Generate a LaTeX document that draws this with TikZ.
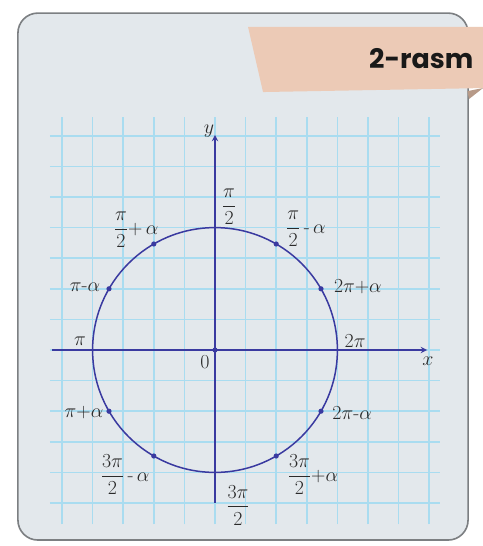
\RequirePackage{fix-cm}
\documentclass[tikz,border=0pt]{standalone}
\usepackage{amsmath}
\usepackage{fontspec}
\newfontfamily\rasmfont{Poppins}
\usepackage{tikz}
\definecolor{boxfill}{HTML}{E3E8EC}
\definecolor{boxline}{HTML}{7C7F82}
\definecolor{bannerfill}{HTML}{ECCAB6}
\definecolor{bannerfold}{HTML}{B79A88}
\definecolor{gridblue}{HTML}{A9DCF0}
\definecolor{axisblue}{HTML}{3A3AA0}
\definecolor{labelgray}{HTML}{2A2A2A}

\begin{document}
\begin{tikzpicture}[lbl/.style={font=\fontsize{18.5}{21}\selectfont, text=labelgray, inner sep=0pt}]
		\useasboundingbox (-7.026,-6.405) rectangle (8.758,11.438);
		\fill[white] (-7.026,-6.405) rectangle (8.758,11.438);
		\draw[line width=1.5pt, draw=boxline, fill=boxfill, rounded corners=0.65cm] (-6.44,-6.21) rectangle (8.27,11.01);
		\fill[bannerfill] (1.08,10.56) -- (8.758,10.56) -- (8.758,8.56) -- (1.57,8.43) -- cycle;
		\fill[bannerfold] (8.25,8.46) -- (8.758,8.56) -- (8.3,8.2) -- cycle;
		\node[anchor=east, inner sep=0pt, font=\rasmfont\bfseries\fontsize{25}{28}\selectfont, text=black!90] (rasm) at (8.45,9.54) {2-rasm};
		\foreach \k in {-5,...,7}{
			\draw[gridblue, line width=1.4pt] (-5.4,\k) -- (7.35,\k);
			\draw[gridblue, line width=1.4pt] (\k,-5.7) -- (\k,7.6);
		}
		\coordinate (O) at (0,0);
		\coordinate (xs) at (-5.33,0);
		\coordinate (xe) at (6.93,0);
		\coordinate (ys) at (0,-5.0);
		\coordinate (ye) at (0,7.03);
		\draw[line width=1.6pt, axisblue, -stealth] (xs) -- (xe);
		\draw[line width=1.6pt, axisblue, -stealth] (ys) -- (ye);
		\draw[line width=1.4pt, axisblue] (O) circle (4);
		\foreach \a in {30,60,120,150,210,240,300,330}{
			\coordinate (P\a) at (\a:4);
			\fill[axisblue] (P\a) circle (0.085);
		}
		\fill[axisblue] (O) circle (0.085);
		\node[lbl] (xlab) at (6.96,-0.38) {$x$};
		\node[lbl] (ylab) at (-0.2,7.15) {$y$};
		\node[lbl] (zero) at (-0.33,-0.4) {$0$};
		\node[lbl] (top) at (0.46,4.67) {$\dfrac{\pi}{2}$};
		\node[lbl] (bot) at (0.75,-5.07) {$\dfrac{3\pi}{2}$};
		\node[lbl] (pi) at (-4.41,0.29) {$\pi$};
		\node[lbl] (twopi) at (4.58,0.29) {$2\pi$};
		\node[lbl] (halfplus) at (-2.58,3.92) {$\dfrac{\pi}{2}{+}\,\alpha$};
		\node[lbl] (halfminus) at (2.97,3.95) {$\dfrac{\pi}{2}\,\text{-}\,\alpha$};
		\node[lbl] (piminus) at (-4.25,2.06) {$\pi\text{-}\alpha$};
		\node[lbl] (twopiplus) at (4.67,2.06) {$2\pi{+}\alpha$};
		\node[lbl] (piplus) at (-4.28,-2.03) {$\pi{+}\alpha$};
		\node[lbl] (twopiminus) at (4.48,-2.06) {$2\pi\text{-}\alpha$};
		\node[lbl] (threeminus) at (-2.94,-4.08) {$\dfrac{3\pi}{2}\,\text{-}\,\alpha$};
		\node[lbl] (threeplus) at (3.2,-4.08) {$\dfrac{3\pi}{2}{+}\alpha$};
	\end{tikzpicture}
\end{document}
